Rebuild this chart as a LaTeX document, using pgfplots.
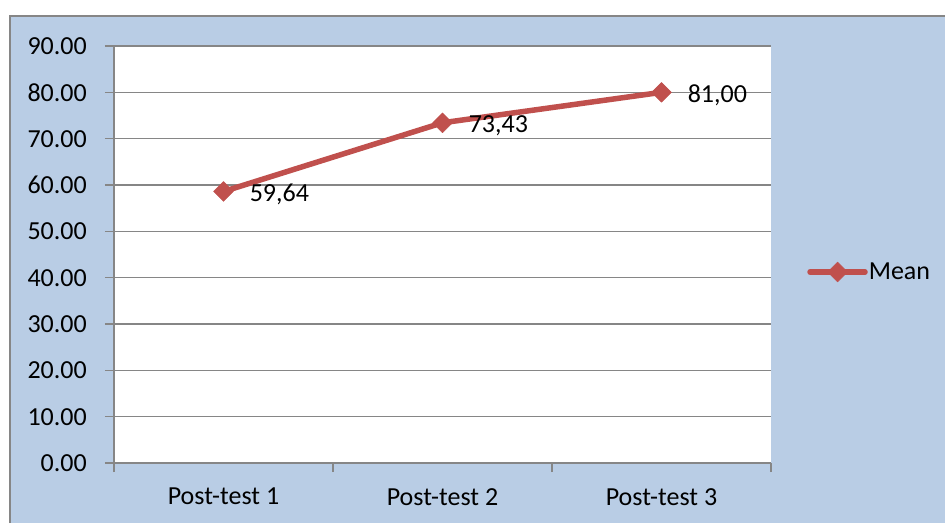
\documentclass[border=0pt]{standalone}
\usepackage{pgfplots}
\pgfplotsset{compat=1.18}
\usepackage{fontspec}
\setmainfont{Carlito}
\definecolor{bg}{RGB}{185,205,229}
\definecolor{gridc}{RGB}{134,134,134}
\definecolor{ser}{RGB}{192,80,77}
\pgfplotstableread{
x y lab
0 58.6 59,64
1 73.43 73,43
2 80.0 81,00
}\meandata
\begin{document}
\begin{tikzpicture}[x=1pt,y=1pt]
\useasboundingbox (0,0) rectangle (945,523);
\fill[white] (0,0) rectangle (945,523);
\fill[bg] (10,0) rectangle (945,507);
\draw[gridc, line width=2pt] (10,0) -- (10,507) -- (945,507);
\begin{axis}[
 at={(114pt,60pt)}, anchor=south west,
 scale only axis, width=657pt, height=417pt,
 xmin=-0.5, xmax=2.5, ymin=0, ymax=90,
 axis background/.style={fill=white},
 axis x line*=bottom, axis y line*=left,
 axis line style={gridc, line width=1.5pt},
 xtick={0,1,2}, xticklabels={Post-test 1,Post-test 2,Post-test 3},
 minor xtick={-0.5,0.5,1.5,2.5},
 ytick={0,10,...,90},
 tick align=outside,
 major tick length=9pt, minor tick length=9pt,
 major x tick style={draw=none},
 minor x tick style={gridc, line width=1.5pt},
 major y tick style={gridc, line width=1.5pt},
 ymajorgrids, major grid style={gridc, line width=1.5pt},
 /pgf/number format/assume math mode=true,
 every tick label/.append style={font=\fontsize{26}{31}\selectfont, text=black},
 yticklabel style={/pgf/number format/fixed, /pgf/number format/fixed zerofill, /pgf/number format/precision=2, inner sep=0pt, anchor=east, xshift=-18pt},
 xticklabel style={inner sep=0pt, anchor=north, yshift=-16pt},
 legend style={at={(axis description cs:1.0552,0.458)}, anchor=west, draw=none, fill=none, inner sep=0pt, outer sep=0pt, nodes={inner sep=0pt}, column sep=1pt, font=\fontsize{26}{31}\selectfont},
 legend image code/.code={
   \draw[ser, line width=5.5pt, line cap=round] (1pt,0pt) -- (56pt,0pt);
   \path plot[mark=square*, mark size=7pt, mark options={ser, fill=ser, rotate=45, line width=0.5pt}] coordinates {(28.5pt,0pt)};
 },
]
\addplot[ser, line width=5.5pt, line join=round,
  mark=square*, mark size=7pt, mark options={solid, ser, fill=ser, rotate=45, line width=0.5pt},
  nodes near coords, point meta=explicit symbolic,
  every node near coord/.style={anchor=west, inner sep=0pt, xshift=26pt, yshift=-3pt, font=\fontsize{26}{31}\selectfont, text=black}]
  table[x=x, y=y, meta=lab] {\meandata};
\addlegendentry{Mean}
\end{axis}
\end{tikzpicture}
\end{document}
